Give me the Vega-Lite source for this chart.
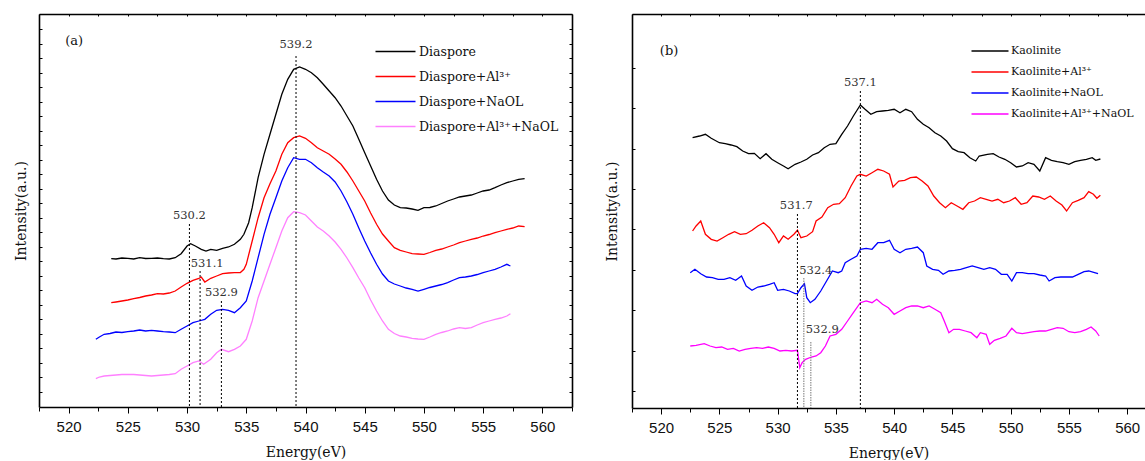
{
"$schema": "https://vega.github.io/schema/vega-lite/v6.json",
"background": "white",
"padding": {"left": 14, "top": 13, "right": 0, "bottom": 0},
"spacing": 32,
"config": {
  "view": {"stroke": null},
  "axis": {"grid": false, "domainColor": "#000", "tickColor": "#000", "domainWidth": 1.6, "tickWidth": 1, "labelFont": "Liberation Sans, Arial, sans-serif", "labelFontSize": 15, "labelColor": "#111", "titleFont": "DejaVu Serif, serif", "titleFontSize": 14, "titleFontWeight": "normal", "titleColor": "#111"},
  "legend": {"labelFont": "DejaVu Serif, serif", "labelColor": "#111"},
  "text": {"font": "DejaVu Serif, serif", "color": "#333"}
},
"resolve": {"scale": {"color": "independent"}, "legend": {"color": "independent"}},
"datasets": {
"a": [
{"series":"Diaspore","x":523.6,"y":14.83},{"series":"Diaspore","x":524.0,"y":14.8},{"series":"Diaspore","x":524.5,"y":14.9},{"series":"Diaspore","x":525,"y":14.87},{"series":"Diaspore","x":525.5,"y":14.8},{"series":"Diaspore","x":526,"y":14.93},{"series":"Diaspore","x":526.5,"y":14.85},{"series":"Diaspore","x":527,"y":14.87},{"series":"Diaspore","x":527.5,"y":14.9},{"series":"Diaspore","x":528,"y":14.83},{"series":"Diaspore","x":528.5,"y":14.8},{"series":"Diaspore","x":529,"y":14.93},{"series":"Diaspore","x":529.5,"y":15.33},{"series":"Diaspore","x":530,"y":16.1},{"series":"Diaspore","x":530.3,"y":16.33},{"series":"Diaspore","x":530.7,"y":16.1},{"series":"Diaspore","x":531.2,"y":15.77},{"series":"Diaspore","x":531.6,"y":15.6},{"series":"Diaspore","x":532,"y":15.77},{"series":"Diaspore","x":532.5,"y":15.67},{"series":"Diaspore","x":533,"y":15.87},{"series":"Diaspore","x":533.5,"y":16.0},{"series":"Diaspore","x":534,"y":16.27},{"series":"Diaspore","x":534.5,"y":16.77},{"series":"Diaspore","x":534.8,"y":17.27},{"series":"Diaspore","x":535.2,"y":18.43},{"series":"Diaspore","x":535.5,"y":19.93},{"series":"Diaspore","x":536,"y":22.93},{"series":"Diaspore","x":536.5,"y":25.27},{"series":"Diaspore","x":537,"y":27.27},{"series":"Diaspore","x":537.5,"y":29.27},{"series":"Diaspore","x":538,"y":31.27},{"series":"Diaspore","x":538.5,"y":32.77},{"series":"Diaspore","x":539,"y":33.77},{"series":"Diaspore","x":539.5,"y":34.0},{"series":"Diaspore","x":540,"y":33.77},{"series":"Diaspore","x":540.5,"y":33.43},{"series":"Diaspore","x":541,"y":32.93},{"series":"Diaspore","x":541.5,"y":32.27},{"series":"Diaspore","x":542,"y":31.6},{"series":"Diaspore","x":542.5,"y":30.93},{"series":"Diaspore","x":543,"y":30.1},{"series":"Diaspore","x":543.5,"y":29.1},{"series":"Diaspore","x":544,"y":28.1},{"series":"Diaspore","x":544.5,"y":26.77},{"series":"Diaspore","x":545,"y":25.43},{"series":"Diaspore","x":545.5,"y":24.1},{"series":"Diaspore","x":546,"y":22.77},{"series":"Diaspore","x":546.5,"y":21.6},{"series":"Diaspore","x":547,"y":20.7},{"series":"Diaspore","x":547.5,"y":20.2},{"series":"Diaspore","x":548,"y":19.93},{"series":"Diaspore","x":548.5,"y":19.9},{"series":"Diaspore","x":549,"y":19.8},{"series":"Diaspore","x":549.5,"y":19.67},{"series":"Diaspore","x":550,"y":19.93},{"series":"Diaspore","x":550.5,"y":19.95},{"series":"Diaspore","x":551,"y":20.1},{"series":"Diaspore","x":551.5,"y":20.35},{"series":"Diaspore","x":552,"y":20.6},{"series":"Diaspore","x":552.5,"y":20.8},{"series":"Diaspore","x":553,"y":21.0},{"series":"Diaspore","x":553.5,"y":21.1},{"series":"Diaspore","x":554,"y":21.2},{"series":"Diaspore","x":554.5,"y":21.4},{"series":"Diaspore","x":555,"y":21.6},{"series":"Diaspore","x":555.5,"y":21.7},{"series":"Diaspore","x":556,"y":21.93},{"series":"Diaspore","x":556.5,"y":22.2},{"series":"Diaspore","x":557,"y":22.43},{"series":"Diaspore","x":557.5,"y":22.6},{"series":"Diaspore","x":558,"y":22.77},{"series":"Diaspore","x":558.5,"y":22.83},
{"series":"Diaspore+Al³⁺","x":523.6,"y":10.43},{"series":"Diaspore+Al³⁺","x":524,"y":10.5},{"series":"Diaspore+Al³⁺","x":524.5,"y":10.6},{"series":"Diaspore+Al³⁺","x":525,"y":10.7},{"series":"Diaspore+Al³⁺","x":525.5,"y":10.83},{"series":"Diaspore+Al³⁺","x":526,"y":10.95},{"series":"Diaspore+Al³⁺","x":526.5,"y":11.1},{"series":"Diaspore+Al³⁺","x":527,"y":11.2},{"series":"Diaspore+Al³⁺","x":527.5,"y":11.33},{"series":"Diaspore+Al³⁺","x":528,"y":11.3},{"series":"Diaspore+Al³⁺","x":528.5,"y":11.4},{"series":"Diaspore+Al³⁺","x":529,"y":11.6},{"series":"Diaspore+Al³⁺","x":529.5,"y":12.0},{"series":"Diaspore+Al³⁺","x":530,"y":12.37},{"series":"Diaspore+Al³⁺","x":530.5,"y":12.67},{"series":"Diaspore+Al³⁺","x":531,"y":12.87},{"series":"Diaspore+Al³⁺","x":531.2,"y":13.0},{"series":"Diaspore+Al³⁺","x":531.5,"y":12.5},{"series":"Diaspore+Al³⁺","x":532,"y":12.87},{"series":"Diaspore+Al³⁺","x":532.5,"y":13.1},{"series":"Diaspore+Al³⁺","x":533,"y":13.33},{"series":"Diaspore+Al³⁺","x":533.5,"y":13.4},{"series":"Diaspore+Al³⁺","x":534,"y":13.43},{"series":"Diaspore+Al³⁺","x":534.5,"y":13.45},{"series":"Diaspore+Al³⁺","x":534.8,"y":13.77},{"series":"Diaspore+Al³⁺","x":535,"y":14.27},{"series":"Diaspore+Al³⁺","x":535.5,"y":16.6},{"series":"Diaspore+Al³⁺","x":536,"y":18.93},{"series":"Diaspore+Al³⁺","x":536.5,"y":20.93},{"series":"Diaspore+Al³⁺","x":537,"y":22.33},{"series":"Diaspore+Al³⁺","x":537.5,"y":23.6},{"series":"Diaspore+Al³⁺","x":538,"y":25.27},{"series":"Diaspore+Al³⁺","x":538.5,"y":26.43},{"series":"Diaspore+Al³⁺","x":539,"y":26.93},{"series":"Diaspore+Al³⁺","x":539.5,"y":27.1},{"series":"Diaspore+Al³⁺","x":540,"y":26.87},{"series":"Diaspore+Al³⁺","x":540.5,"y":26.43},{"series":"Diaspore+Al³⁺","x":541,"y":25.93},{"series":"Diaspore+Al³⁺","x":541.5,"y":25.6},{"series":"Diaspore+Al³⁺","x":542,"y":25.27},{"series":"Diaspore+Al³⁺","x":542.5,"y":24.8},{"series":"Diaspore+Al³⁺","x":543,"y":24.27},{"series":"Diaspore+Al³⁺","x":543.5,"y":23.5},{"series":"Diaspore+Al³⁺","x":544,"y":22.6},{"series":"Diaspore+Al³⁺","x":544.5,"y":21.6},{"series":"Diaspore+Al³⁺","x":545,"y":20.6},{"series":"Diaspore+Al³⁺","x":545.5,"y":19.4},{"series":"Diaspore+Al³⁺","x":546,"y":18.27},{"series":"Diaspore+Al³⁺","x":546.5,"y":17.3},{"series":"Diaspore+Al³⁺","x":547,"y":16.6},{"series":"Diaspore+Al³⁺","x":547.5,"y":15.93},{"series":"Diaspore+Al³⁺","x":548,"y":15.67},{"series":"Diaspore+Al³⁺","x":548.5,"y":15.5},{"series":"Diaspore+Al³⁺","x":549,"y":15.33},{"series":"Diaspore+Al³⁺","x":549.5,"y":15.3},{"series":"Diaspore+Al³⁺","x":550,"y":15.27},{"series":"Diaspore+Al³⁺","x":550.5,"y":15.45},{"series":"Diaspore+Al³⁺","x":551,"y":15.67},{"series":"Diaspore+Al³⁺","x":551.5,"y":15.8},{"series":"Diaspore+Al³⁺","x":552,"y":16.0},{"series":"Diaspore+Al³⁺","x":552.5,"y":16.2},{"series":"Diaspore+Al³⁺","x":553,"y":16.43},{"series":"Diaspore+Al³⁺","x":553.5,"y":16.6},{"series":"Diaspore+Al³⁺","x":554,"y":16.77},{"series":"Diaspore+Al³⁺","x":554.5,"y":16.9},{"series":"Diaspore+Al³⁺","x":555,"y":17.1},{"series":"Diaspore+Al³⁺","x":555.5,"y":17.25},{"series":"Diaspore+Al³⁺","x":556,"y":17.43},{"series":"Diaspore+Al³⁺","x":556.5,"y":17.6},{"series":"Diaspore+Al³⁺","x":557,"y":17.77},{"series":"Diaspore+Al³⁺","x":557.5,"y":17.9},{"series":"Diaspore+Al³⁺","x":558,"y":18.1},{"series":"Diaspore+Al³⁺","x":558.5,"y":18.03},
{"series":"Diaspore+NaOL","x":522.3,"y":6.77},{"series":"Diaspore+NaOL","x":522.6,"y":7.0},{"series":"Diaspore+NaOL","x":523,"y":7.27},{"series":"Diaspore+NaOL","x":523.5,"y":7.35},{"series":"Diaspore+NaOL","x":524,"y":7.5},{"series":"Diaspore+NaOL","x":524.5,"y":7.45},{"series":"Diaspore+NaOL","x":525,"y":7.53},{"series":"Diaspore+NaOL","x":525.5,"y":7.6},{"series":"Diaspore+NaOL","x":526,"y":7.7},{"series":"Diaspore+NaOL","x":526.5,"y":7.6},{"series":"Diaspore+NaOL","x":527,"y":7.67},{"series":"Diaspore+NaOL","x":527.5,"y":7.6},{"series":"Diaspore+NaOL","x":528,"y":7.53},{"series":"Diaspore+NaOL","x":528.5,"y":7.5},{"series":"Diaspore+NaOL","x":529,"y":7.43},{"series":"Diaspore+NaOL","x":529.5,"y":7.77},{"series":"Diaspore+NaOL","x":530,"y":8.1},{"series":"Diaspore+NaOL","x":530.5,"y":8.43},{"series":"Diaspore+NaOL","x":531,"y":8.6},{"series":"Diaspore+NaOL","x":531.5,"y":8.77},{"series":"Diaspore+NaOL","x":532,"y":9.27},{"series":"Diaspore+NaOL","x":532.5,"y":9.67},{"series":"Diaspore+NaOL","x":533,"y":9.77},{"series":"Diaspore+NaOL","x":533.5,"y":9.67},{"series":"Diaspore+NaOL","x":534,"y":9.43},{"series":"Diaspore+NaOL","x":534.5,"y":9.93},{"series":"Diaspore+NaOL","x":535,"y":10.6},{"series":"Diaspore+NaOL","x":535.5,"y":12.6},{"series":"Diaspore+NaOL","x":536,"y":14.93},{"series":"Diaspore+NaOL","x":536.5,"y":17.27},{"series":"Diaspore+NaOL","x":537,"y":19.27},{"series":"Diaspore+NaOL","x":537.5,"y":20.93},{"series":"Diaspore+NaOL","x":538,"y":22.6},{"series":"Diaspore+NaOL","x":538.5,"y":23.93},{"series":"Diaspore+NaOL","x":539,"y":24.93},{"series":"Diaspore+NaOL","x":539.5,"y":24.77},{"series":"Diaspore+NaOL","x":540,"y":24.77},{"series":"Diaspore+NaOL","x":540.5,"y":24.43},{"series":"Diaspore+NaOL","x":541,"y":23.93},{"series":"Diaspore+NaOL","x":541.5,"y":23.5},{"series":"Diaspore+NaOL","x":542,"y":23.1},{"series":"Diaspore+NaOL","x":542.5,"y":22.5},{"series":"Diaspore+NaOL","x":543,"y":21.6},{"series":"Diaspore+NaOL","x":543.5,"y":20.5},{"series":"Diaspore+NaOL","x":544,"y":19.27},{"series":"Diaspore+NaOL","x":544.5,"y":17.9},{"series":"Diaspore+NaOL","x":545,"y":16.6},{"series":"Diaspore+NaOL","x":545.5,"y":15.4},{"series":"Diaspore+NaOL","x":546,"y":14.27},{"series":"Diaspore+NaOL","x":546.5,"y":13.3},{"series":"Diaspore+NaOL","x":547,"y":12.6},{"series":"Diaspore+NaOL","x":547.5,"y":12.3},{"series":"Diaspore+NaOL","x":548,"y":12.1},{"series":"Diaspore+NaOL","x":548.5,"y":11.9},{"series":"Diaspore+NaOL","x":549,"y":11.77},{"series":"Diaspore+NaOL","x":549.5,"y":11.6},{"series":"Diaspore+NaOL","x":550,"y":11.77},{"series":"Diaspore+NaOL","x":550.5,"y":11.95},{"series":"Diaspore+NaOL","x":551,"y":12.1},{"series":"Diaspore+NaOL","x":551.5,"y":12.25},{"series":"Diaspore+NaOL","x":552,"y":12.43},{"series":"Diaspore+NaOL","x":552.5,"y":12.7},{"series":"Diaspore+NaOL","x":553,"y":12.93},{"series":"Diaspore+NaOL","x":553.5,"y":13.0},{"series":"Diaspore+NaOL","x":554,"y":13.1},{"series":"Diaspore+NaOL","x":554.5,"y":13.25},{"series":"Diaspore+NaOL","x":555,"y":13.43},{"series":"Diaspore+NaOL","x":555.5,"y":13.6},{"series":"Diaspore+NaOL","x":556,"y":13.77},{"series":"Diaspore+NaOL","x":556.5,"y":14.0},{"series":"Diaspore+NaOL","x":557,"y":14.27},{"series":"Diaspore+NaOL","x":557.3,"y":14.1},
{"series":"Diaspore+Al³⁺+NaOL","x":522.3,"y":2.83},{"series":"Diaspore+Al³⁺+NaOL","x":522.6,"y":3.0},{"series":"Diaspore+Al³⁺+NaOL","x":523,"y":3.1},{"series":"Diaspore+Al³⁺+NaOL","x":523.5,"y":3.15},{"series":"Diaspore+Al³⁺+NaOL","x":524,"y":3.2},{"series":"Diaspore+Al³⁺+NaOL","x":524.5,"y":3.25},{"series":"Diaspore+Al³⁺+NaOL","x":525,"y":3.27},{"series":"Diaspore+Al³⁺+NaOL","x":525.5,"y":3.25},{"series":"Diaspore+Al³⁺+NaOL","x":526,"y":3.2},{"series":"Diaspore+Al³⁺+NaOL","x":526.5,"y":3.15},{"series":"Diaspore+Al³⁺+NaOL","x":527,"y":3.1},{"series":"Diaspore+Al³⁺+NaOL","x":527.5,"y":3.15},{"series":"Diaspore+Al³⁺+NaOL","x":528,"y":3.2},{"series":"Diaspore+Al³⁺+NaOL","x":528.5,"y":3.25},{"series":"Diaspore+Al³⁺+NaOL","x":529,"y":3.33},{"series":"Diaspore+Al³⁺+NaOL","x":529.5,"y":3.77},{"series":"Diaspore+Al³⁺+NaOL","x":530,"y":4.1},{"series":"Diaspore+Al³⁺+NaOL","x":530.5,"y":4.43},{"series":"Diaspore+Al³⁺+NaOL","x":531,"y":4.6},{"series":"Diaspore+Al³⁺+NaOL","x":531.4,"y":4.27},{"series":"Diaspore+Al³⁺+NaOL","x":532,"y":4.77},{"series":"Diaspore+Al³⁺+NaOL","x":532.5,"y":5.43},{"series":"Diaspore+Al³⁺+NaOL","x":532.9,"y":5.77},{"series":"Diaspore+Al³⁺+NaOL","x":533.5,"y":5.53},{"series":"Diaspore+Al³⁺+NaOL","x":534,"y":5.77},{"series":"Diaspore+Al³⁺+NaOL","x":534.5,"y":6.1},{"series":"Diaspore+Al³⁺+NaOL","x":535,"y":6.77},{"series":"Diaspore+Al³⁺+NaOL","x":535.5,"y":8.6},{"series":"Diaspore+Al³⁺+NaOL","x":536,"y":10.93},{"series":"Diaspore+Al³⁺+NaOL","x":536.5,"y":12.6},{"series":"Diaspore+Al³⁺+NaOL","x":537,"y":14.27},{"series":"Diaspore+Al³⁺+NaOL","x":537.5,"y":15.93},{"series":"Diaspore+Al³⁺+NaOL","x":538,"y":17.6},{"series":"Diaspore+Al³⁺+NaOL","x":538.5,"y":18.93},{"series":"Diaspore+Al³⁺+NaOL","x":539,"y":19.53},{"series":"Diaspore+Al³⁺+NaOL","x":539.5,"y":19.43},{"series":"Diaspore+Al³⁺+NaOL","x":540,"y":19.2},{"series":"Diaspore+Al³⁺+NaOL","x":540.5,"y":18.6},{"series":"Diaspore+Al³⁺+NaOL","x":541,"y":18.0},{"series":"Diaspore+Al³⁺+NaOL","x":541.5,"y":17.6},{"series":"Diaspore+Al³⁺+NaOL","x":542,"y":17.1},{"series":"Diaspore+Al³⁺+NaOL","x":542.5,"y":16.5},{"series":"Diaspore+Al³⁺+NaOL","x":543,"y":15.77},{"series":"Diaspore+Al³⁺+NaOL","x":543.5,"y":14.9},{"series":"Diaspore+Al³⁺+NaOL","x":544,"y":13.93},{"series":"Diaspore+Al³⁺+NaOL","x":544.5,"y":12.9},{"series":"Diaspore+Al³⁺+NaOL","x":545,"y":11.93},{"series":"Diaspore+Al³⁺+NaOL","x":545.5,"y":10.7},{"series":"Diaspore+Al³⁺+NaOL","x":546,"y":9.6},{"series":"Diaspore+Al³⁺+NaOL","x":546.5,"y":8.6},{"series":"Diaspore+Al³⁺+NaOL","x":547,"y":7.77},{"series":"Diaspore+Al³⁺+NaOL","x":547.5,"y":7.35},{"series":"Diaspore+Al³⁺+NaOL","x":548,"y":7.1},{"series":"Diaspore+Al³⁺+NaOL","x":548.5,"y":7.0},{"series":"Diaspore+Al³⁺+NaOL","x":549,"y":6.87},{"series":"Diaspore+Al³⁺+NaOL","x":549.5,"y":6.8},{"series":"Diaspore+Al³⁺+NaOL","x":550,"y":6.77},{"series":"Diaspore+Al³⁺+NaOL","x":550.5,"y":7.0},{"series":"Diaspore+Al³⁺+NaOL","x":551,"y":7.27},{"series":"Diaspore+Al³⁺+NaOL","x":551.5,"y":7.45},{"series":"Diaspore+Al³⁺+NaOL","x":552,"y":7.6},{"series":"Diaspore+Al³⁺+NaOL","x":552.5,"y":7.8},{"series":"Diaspore+Al³⁺+NaOL","x":553,"y":7.93},{"series":"Diaspore+Al³⁺+NaOL","x":553.5,"y":7.85},{"series":"Diaspore+Al³⁺+NaOL","x":554,"y":7.93},{"series":"Diaspore+Al³⁺+NaOL","x":554.5,"y":8.2},{"series":"Diaspore+Al³⁺+NaOL","x":555,"y":8.43},{"series":"Diaspore+Al³⁺+NaOL","x":555.5,"y":8.6},{"series":"Diaspore+Al³⁺+NaOL","x":556,"y":8.77},{"series":"Diaspore+Al³⁺+NaOL","x":556.5,"y":8.9},{"series":"Diaspore+Al³⁺+NaOL","x":557,"y":9.1},{"series":"Diaspore+Al³⁺+NaOL","x":557.3,"y":9.33}
],
"b": [
{"series":"Kaolinite","x":522.7,"y":27.03},{"series":"Kaolinite","x":523.3,"y":27.2},{"series":"Kaolinite","x":523.8,"y":27.37},{"series":"Kaolinite","x":524.3,"y":26.97},{"series":"Kaolinite","x":525,"y":26.53},{"series":"Kaolinite","x":525.5,"y":26.43},{"series":"Kaolinite","x":526,"y":26.3},{"series":"Kaolinite","x":526.5,"y":26.13},{"series":"Kaolinite","x":527,"y":25.7},{"series":"Kaolinite","x":527.5,"y":25.43},{"series":"Kaolinite","x":528,"y":25.47},{"series":"Kaolinite","x":528.5,"y":24.93},{"series":"Kaolinite","x":529,"y":25.43},{"series":"Kaolinite","x":529.5,"y":24.87},{"series":"Kaolinite","x":530,"y":24.53},{"series":"Kaolinite","x":530.5,"y":24.2},{"series":"Kaolinite","x":530.9,"y":23.93},{"series":"Kaolinite","x":531.5,"y":24.37},{"series":"Kaolinite","x":532,"y":24.6},{"series":"Kaolinite","x":532.5,"y":24.87},{"series":"Kaolinite","x":533,"y":25.3},{"series":"Kaolinite","x":533.5,"y":25.53},{"series":"Kaolinite","x":534,"y":26.03},{"series":"Kaolinite","x":534.5,"y":26.37},{"series":"Kaolinite","x":535,"y":26.43},{"series":"Kaolinite","x":535.5,"y":27.37},{"series":"Kaolinite","x":536,"y":28.2},{"series":"Kaolinite","x":536.5,"y":29.2},{"series":"Kaolinite","x":537.1,"y":30.3},{"series":"Kaolinite","x":537.5,"y":29.87},{"series":"Kaolinite","x":538,"y":29.37},{"series":"Kaolinite","x":538.5,"y":29.63},{"series":"Kaolinite","x":539,"y":29.7},{"series":"Kaolinite","x":539.5,"y":29.77},{"series":"Kaolinite","x":540,"y":29.87},{"series":"Kaolinite","x":540.5,"y":29.53},{"series":"Kaolinite","x":541,"y":29.87},{"series":"Kaolinite","x":541.5,"y":29.63},{"series":"Kaolinite","x":542,"y":28.87},{"series":"Kaolinite","x":542.5,"y":28.37},{"series":"Kaolinite","x":543,"y":28.03},{"series":"Kaolinite","x":543.5,"y":27.53},{"series":"Kaolinite","x":544,"y":27.2},{"series":"Kaolinite","x":544.5,"y":26.7},{"series":"Kaolinite","x":545,"y":25.93},{"series":"Kaolinite","x":545.5,"y":25.63},{"series":"Kaolinite","x":546,"y":25.53},{"series":"Kaolinite","x":546.5,"y":25.03},{"series":"Kaolinite","x":547,"y":24.7},{"series":"Kaolinite","x":547.3,"y":25.2},{"series":"Kaolinite","x":548,"y":25.37},{"series":"Kaolinite","x":548.5,"y":25.43},{"series":"Kaolinite","x":549,"y":25.1},{"series":"Kaolinite","x":549.5,"y":24.87},{"series":"Kaolinite","x":550,"y":24.53},{"series":"Kaolinite","x":550.5,"y":24.1},{"series":"Kaolinite","x":551,"y":24.2},{"series":"Kaolinite","x":551.5,"y":24.53},{"series":"Kaolinite","x":552,"y":24.37},{"series":"Kaolinite","x":552.5,"y":23.7},{"series":"Kaolinite","x":553,"y":25.03},{"series":"Kaolinite","x":553.5,"y":24.77},{"series":"Kaolinite","x":554,"y":24.63},{"series":"Kaolinite","x":554.5,"y":24.53},{"series":"Kaolinite","x":555,"y":24.37},{"series":"Kaolinite","x":555.5,"y":24.63},{"series":"Kaolinite","x":556,"y":24.77},{"series":"Kaolinite","x":556.5,"y":24.87},{"series":"Kaolinite","x":557,"y":25.03},{"series":"Kaolinite","x":557.3,"y":24.77},{"series":"Kaolinite","x":557.7,"y":24.9},
{"series":"Kaolinite+Al³⁺","x":522.7,"y":17.7},{"series":"Kaolinite+Al³⁺","x":523,"y":18.2},{"series":"Kaolinite+Al³⁺","x":523.4,"y":18.7},{"series":"Kaolinite+Al³⁺","x":523.8,"y":17.37},{"series":"Kaolinite+Al³⁺","x":524.3,"y":16.87},{"series":"Kaolinite+Al³⁺","x":524.8,"y":16.7},{"series":"Kaolinite+Al³⁺","x":525.3,"y":17.03},{"series":"Kaolinite+Al³⁺","x":525.8,"y":17.37},{"series":"Kaolinite+Al³⁺","x":526.3,"y":17.63},{"series":"Kaolinite+Al³⁺","x":526.8,"y":17.37},{"series":"Kaolinite+Al³⁺","x":527.3,"y":17.43},{"series":"Kaolinite+Al³⁺","x":527.8,"y":17.77},{"series":"Kaolinite+Al³⁺","x":528.3,"y":18.2},{"series":"Kaolinite+Al³⁺","x":528.8,"y":18.53},{"series":"Kaolinite+Al³⁺","x":529.3,"y":18.03},{"series":"Kaolinite+Al³⁺","x":529.7,"y":17.37},{"series":"Kaolinite+Al³⁺","x":530.1,"y":16.53},{"series":"Kaolinite+Al³⁺","x":530.5,"y":17.2},{"series":"Kaolinite+Al³⁺","x":530.9,"y":16.87},{"series":"Kaolinite+Al³⁺","x":531.4,"y":17.37},{"series":"Kaolinite+Al³⁺","x":531.7,"y":17.77},{"series":"Kaolinite+Al³⁺","x":532,"y":17.03},{"series":"Kaolinite+Al³⁺","x":532.5,"y":17.2},{"series":"Kaolinite+Al³⁺","x":533,"y":17.63},{"series":"Kaolinite+Al³⁺","x":533.3,"y":18.7},{"series":"Kaolinite+Al³⁺","x":533.8,"y":19.1},{"series":"Kaolinite+Al³⁺","x":534.3,"y":20.03},{"series":"Kaolinite+Al³⁺","x":534.8,"y":20.37},{"series":"Kaolinite+Al³⁺","x":535.3,"y":20.43},{"series":"Kaolinite+Al³⁺","x":535.8,"y":21.03},{"series":"Kaolinite+Al³⁺","x":536.3,"y":22.2},{"series":"Kaolinite+Al³⁺","x":536.8,"y":23.2},{"series":"Kaolinite+Al³⁺","x":537.1,"y":23.37},{"series":"Kaolinite+Al³⁺","x":537.6,"y":23.2},{"series":"Kaolinite+Al³⁺","x":538.1,"y":23.53},{"series":"Kaolinite+Al³⁺","x":538.6,"y":23.87},{"series":"Kaolinite+Al³⁺","x":539.1,"y":23.7},{"series":"Kaolinite+Al³⁺","x":539.6,"y":23.37},{"series":"Kaolinite+Al³⁺","x":539.9,"y":22.1},{"series":"Kaolinite+Al³⁺","x":540.4,"y":22.7},{"series":"Kaolinite+Al³⁺","x":540.9,"y":22.77},{"series":"Kaolinite+Al³⁺","x":541.4,"y":23.03},{"series":"Kaolinite+Al³⁺","x":541.9,"y":23.1},{"series":"Kaolinite+Al³⁺","x":542.4,"y":22.7},{"series":"Kaolinite+Al³⁺","x":542.9,"y":22.2},{"series":"Kaolinite+Al³⁺","x":543.4,"y":21.2},{"series":"Kaolinite+Al³⁺","x":543.9,"y":20.53},{"series":"Kaolinite+Al³⁺","x":544.4,"y":20.03},{"series":"Kaolinite+Al³⁺","x":544.9,"y":20.53},{"series":"Kaolinite+Al³⁺","x":545.4,"y":20.2},{"series":"Kaolinite+Al³⁺","x":545.9,"y":19.87},{"series":"Kaolinite+Al³⁺","x":546.4,"y":20.53},{"series":"Kaolinite+Al³⁺","x":546.9,"y":20.7},{"series":"Kaolinite+Al³⁺","x":547.4,"y":21.03},{"series":"Kaolinite+Al³⁺","x":547.9,"y":20.87},{"series":"Kaolinite+Al³⁺","x":548.4,"y":20.7},{"series":"Kaolinite+Al³⁺","x":548.9,"y":20.87},{"series":"Kaolinite+Al³⁺","x":549.4,"y":20.53},{"series":"Kaolinite+Al³⁺","x":549.9,"y":20.7},{"series":"Kaolinite+Al³⁺","x":550.4,"y":21.03},{"series":"Kaolinite+Al³⁺","x":550.9,"y":20.37},{"series":"Kaolinite+Al³⁺","x":551.4,"y":20.53},{"series":"Kaolinite+Al³⁺","x":551.9,"y":21.2},{"series":"Kaolinite+Al³⁺","x":552.4,"y":21.1},{"series":"Kaolinite+Al³⁺","x":552.9,"y":20.87},{"series":"Kaolinite+Al³⁺","x":553.4,"y":21.2},{"series":"Kaolinite+Al³⁺","x":553.9,"y":20.7},{"series":"Kaolinite+Al³⁺","x":554.4,"y":20.3},{"series":"Kaolinite+Al³⁺","x":554.8,"y":19.7},{"series":"Kaolinite+Al³⁺","x":555.3,"y":20.53},{"series":"Kaolinite+Al³⁺","x":555.8,"y":20.77},{"series":"Kaolinite+Al³⁺","x":556.3,"y":21.03},{"series":"Kaolinite+Al³⁺","x":556.7,"y":21.63},{"series":"Kaolinite+Al³⁺","x":557.1,"y":21.37},{"series":"Kaolinite+Al³⁺","x":557.4,"y":20.97},{"series":"Kaolinite+Al³⁺","x":557.7,"y":21.27},
{"series":"Kaolinite+NaOL","x":522.5,"y":13.53},{"series":"Kaolinite+NaOL","x":522.9,"y":13.87},{"series":"Kaolinite+NaOL","x":523.4,"y":13.43},{"series":"Kaolinite+NaOL","x":523.9,"y":13.1},{"series":"Kaolinite+NaOL","x":524.4,"y":13.03},{"series":"Kaolinite+NaOL","x":524.9,"y":12.87},{"series":"Kaolinite+NaOL","x":525.4,"y":12.87},{"series":"Kaolinite+NaOL","x":525.9,"y":13.03},{"series":"Kaolinite+NaOL","x":526.4,"y":12.77},{"series":"Kaolinite+NaOL","x":526.9,"y":13.2},{"series":"Kaolinite+NaOL","x":527.3,"y":12.2},{"series":"Kaolinite+NaOL","x":527.8,"y":11.77},{"series":"Kaolinite+NaOL","x":528.3,"y":12.1},{"series":"Kaolinite+NaOL","x":528.8,"y":12.2},{"series":"Kaolinite+NaOL","x":529.3,"y":12.37},{"series":"Kaolinite+NaOL","x":529.7,"y":12.53},{"series":"Kaolinite+NaOL","x":530,"y":11.77},{"series":"Kaolinite+NaOL","x":530.5,"y":11.87},{"series":"Kaolinite+NaOL","x":531,"y":11.7},{"series":"Kaolinite+NaOL","x":531.5,"y":11.43},{"series":"Kaolinite+NaOL","x":531.7,"y":11.43},{"series":"Kaolinite+NaOL","x":532,"y":12.03},{"series":"Kaolinite+NaOL","x":532.3,"y":12.43},{"series":"Kaolinite+NaOL","x":532.5,"y":11.03},{"series":"Kaolinite+NaOL","x":532.8,"y":10.53},{"series":"Kaolinite+NaOL","x":533.2,"y":10.87},{"series":"Kaolinite+NaOL","x":533.7,"y":11.7},{"series":"Kaolinite+NaOL","x":534.2,"y":12.7},{"series":"Kaolinite+NaOL","x":534.7,"y":13.7},{"series":"Kaolinite+NaOL","x":535.2,"y":13.53},{"series":"Kaolinite+NaOL","x":535.5,"y":13.7},{"series":"Kaolinite+NaOL","x":535.8,"y":14.53},{"series":"Kaolinite+NaOL","x":536.3,"y":14.87},{"series":"Kaolinite+NaOL","x":536.8,"y":15.2},{"series":"Kaolinite+NaOL","x":537.1,"y":15.87},{"series":"Kaolinite+NaOL","x":537.6,"y":15.97},{"series":"Kaolinite+NaOL","x":538.1,"y":15.87},{"series":"Kaolinite+NaOL","x":538.6,"y":16.53},{"series":"Kaolinite+NaOL","x":539.1,"y":16.53},{"series":"Kaolinite+NaOL","x":539.6,"y":16.77},{"series":"Kaolinite+NaOL","x":540,"y":15.87},{"series":"Kaolinite+NaOL","x":540.5,"y":15.53},{"series":"Kaolinite+NaOL","x":541,"y":15.87},{"series":"Kaolinite+NaOL","x":541.5,"y":15.97},{"series":"Kaolinite+NaOL","x":542,"y":16.1},{"series":"Kaolinite+NaOL","x":542.5,"y":15.53},{"series":"Kaolinite+NaOL","x":542.8,"y":14.2},{"series":"Kaolinite+NaOL","x":543.3,"y":13.87},{"series":"Kaolinite+NaOL","x":543.8,"y":13.77},{"series":"Kaolinite+NaOL","x":544.2,"y":13.37},{"series":"Kaolinite+NaOL","x":544.7,"y":13.7},{"series":"Kaolinite+NaOL","x":545.2,"y":13.77},{"series":"Kaolinite+NaOL","x":545.7,"y":13.87},{"series":"Kaolinite+NaOL","x":546.2,"y":14.03},{"series":"Kaolinite+NaOL","x":546.7,"y":14.2},{"series":"Kaolinite+NaOL","x":547.2,"y":14.03},{"series":"Kaolinite+NaOL","x":547.7,"y":13.87},{"series":"Kaolinite+NaOL","x":548.2,"y":14.03},{"series":"Kaolinite+NaOL","x":548.7,"y":13.87},{"series":"Kaolinite+NaOL","x":549.2,"y":13.37},{"series":"Kaolinite+NaOL","x":549.7,"y":13.37},{"series":"Kaolinite+NaOL","x":550.1,"y":12.7},{"series":"Kaolinite+NaOL","x":550.5,"y":13.53},{"series":"Kaolinite+NaOL","x":551,"y":13.53},{"series":"Kaolinite+NaOL","x":551.5,"y":13.43},{"series":"Kaolinite+NaOL","x":552,"y":13.43},{"series":"Kaolinite+NaOL","x":552.5,"y":13.3},{"series":"Kaolinite+NaOL","x":553,"y":13.2},{"series":"Kaolinite+NaOL","x":553.3,"y":12.7},{"series":"Kaolinite+NaOL","x":553.8,"y":13.03},{"series":"Kaolinite+NaOL","x":554.3,"y":13.1},{"series":"Kaolinite+NaOL","x":554.8,"y":13.1},{"series":"Kaolinite+NaOL","x":555.3,"y":13.1},{"series":"Kaolinite+NaOL","x":555.8,"y":13.37},{"series":"Kaolinite+NaOL","x":556.3,"y":13.63},{"series":"Kaolinite+NaOL","x":556.7,"y":13.7},{"series":"Kaolinite+NaOL","x":557.2,"y":13.53},{"series":"Kaolinite+NaOL","x":557.5,"y":13.43},
{"series":"Kaolinite+Al³⁺+NaOL","x":522.5,"y":6.2},{"series":"Kaolinite+Al³⁺+NaOL","x":523,"y":6.27},{"series":"Kaolinite+Al³⁺+NaOL","x":523.7,"y":6.43},{"series":"Kaolinite+Al³⁺+NaOL","x":524.2,"y":6.2},{"series":"Kaolinite+Al³⁺+NaOL","x":524.7,"y":6.03},{"series":"Kaolinite+Al³⁺+NaOL","x":525.2,"y":6.1},{"series":"Kaolinite+Al³⁺+NaOL","x":525.7,"y":5.87},{"series":"Kaolinite+Al³⁺+NaOL","x":526.2,"y":5.97},{"series":"Kaolinite+Al³⁺+NaOL","x":526.7,"y":5.7},{"series":"Kaolinite+Al³⁺+NaOL","x":527.2,"y":5.87},{"series":"Kaolinite+Al³⁺+NaOL","x":527.7,"y":5.97},{"series":"Kaolinite+Al³⁺+NaOL","x":528.2,"y":6.03},{"series":"Kaolinite+Al³⁺+NaOL","x":528.7,"y":5.97},{"series":"Kaolinite+Al³⁺+NaOL","x":529.2,"y":6.1},{"series":"Kaolinite+Al³⁺+NaOL","x":529.7,"y":5.97},{"series":"Kaolinite+Al³⁺+NaOL","x":530.2,"y":5.7},{"series":"Kaolinite+Al³⁺+NaOL","x":530.7,"y":5.77},{"series":"Kaolinite+Al³⁺+NaOL","x":531.2,"y":5.7},{"series":"Kaolinite+Al³⁺+NaOL","x":531.7,"y":5.77},{"series":"Kaolinite+Al³⁺+NaOL","x":531.9,"y":4.03},{"series":"Kaolinite+Al³⁺+NaOL","x":532.1,"y":4.53},{"series":"Kaolinite+Al³⁺+NaOL","x":532.4,"y":4.87},{"series":"Kaolinite+Al³⁺+NaOL","x":532.9,"y":5.1},{"series":"Kaolinite+Al³⁺+NaOL","x":533.3,"y":5.2},{"series":"Kaolinite+Al³⁺+NaOL","x":533.7,"y":5.53},{"series":"Kaolinite+Al³⁺+NaOL","x":534.1,"y":6.2},{"series":"Kaolinite+Al³⁺+NaOL","x":534.5,"y":7.2},{"series":"Kaolinite+Al³⁺+NaOL","x":535,"y":7.37},{"series":"Kaolinite+Al³⁺+NaOL","x":535.5,"y":7.87},{"series":"Kaolinite+Al³⁺+NaOL","x":536,"y":8.7},{"series":"Kaolinite+Al³⁺+NaOL","x":536.5,"y":9.53},{"series":"Kaolinite+Al³⁺+NaOL","x":537.1,"y":10.53},{"series":"Kaolinite+Al³⁺+NaOL","x":537.6,"y":10.7},{"series":"Kaolinite+Al³⁺+NaOL","x":538.1,"y":10.53},{"series":"Kaolinite+Al³⁺+NaOL","x":538.5,"y":10.87},{"series":"Kaolinite+Al³⁺+NaOL","x":539,"y":10.37},{"series":"Kaolinite+Al³⁺+NaOL","x":539.5,"y":10.03},{"series":"Kaolinite+Al³⁺+NaOL","x":540,"y":9.37},{"series":"Kaolinite+Al³⁺+NaOL","x":540.5,"y":9.7},{"series":"Kaolinite+Al³⁺+NaOL","x":541,"y":10.03},{"series":"Kaolinite+Al³⁺+NaOL","x":541.5,"y":10.2},{"series":"Kaolinite+Al³⁺+NaOL","x":542,"y":10.2},{"series":"Kaolinite+Al³⁺+NaOL","x":542.5,"y":10.03},{"series":"Kaolinite+Al³⁺+NaOL","x":543,"y":10.2},{"series":"Kaolinite+Al³⁺+NaOL","x":543.5,"y":9.87},{"series":"Kaolinite+Al³⁺+NaOL","x":544,"y":9.53},{"series":"Kaolinite+Al³⁺+NaOL","x":544.3,"y":8.7},{"series":"Kaolinite+Al³⁺+NaOL","x":544.7,"y":7.53},{"series":"Kaolinite+Al³⁺+NaOL","x":545.1,"y":7.87},{"series":"Kaolinite+Al³⁺+NaOL","x":545.6,"y":7.87},{"series":"Kaolinite+Al³⁺+NaOL","x":546.1,"y":7.7},{"series":"Kaolinite+Al³⁺+NaOL","x":546.6,"y":7.53},{"series":"Kaolinite+Al³⁺+NaOL","x":547.1,"y":7.03},{"series":"Kaolinite+Al³⁺+NaOL","x":547.4,"y":7.53},{"series":"Kaolinite+Al³⁺+NaOL","x":547.9,"y":7.37},{"series":"Kaolinite+Al³⁺+NaOL","x":548.2,"y":6.37},{"series":"Kaolinite+Al³⁺+NaOL","x":548.6,"y":6.77},{"series":"Kaolinite+Al³⁺+NaOL","x":549.1,"y":6.97},{"series":"Kaolinite+Al³⁺+NaOL","x":549.6,"y":7.2},{"series":"Kaolinite+Al³⁺+NaOL","x":550.1,"y":7.97},{"series":"Kaolinite+Al³⁺+NaOL","x":550.5,"y":7.53},{"series":"Kaolinite+Al³⁺+NaOL","x":551,"y":7.43},{"series":"Kaolinite+Al³⁺+NaOL","x":551.5,"y":7.53},{"series":"Kaolinite+Al³⁺+NaOL","x":552,"y":7.63},{"series":"Kaolinite+Al³⁺+NaOL","x":552.5,"y":7.7},{"series":"Kaolinite+Al³⁺+NaOL","x":553,"y":7.7},{"series":"Kaolinite+Al³⁺+NaOL","x":553.5,"y":7.87},{"series":"Kaolinite+Al³⁺+NaOL","x":554,"y":8.03},{"series":"Kaolinite+Al³⁺+NaOL","x":554.5,"y":7.97},{"series":"Kaolinite+Al³⁺+NaOL","x":555,"y":7.63},{"series":"Kaolinite+Al³⁺+NaOL","x":555.5,"y":7.53},{"series":"Kaolinite+Al³⁺+NaOL","x":556,"y":7.63},{"series":"Kaolinite+Al³⁺+NaOL","x":556.5,"y":7.87},{"series":"Kaolinite+Al³⁺+NaOL","x":556.9,"y":8.1},{"series":"Kaolinite+Al³⁺+NaOL","x":557.3,"y":7.7},{"series":"Kaolinite+Al³⁺+NaOL","x":557.6,"y":7.2}
],
"annA": [
{"x":530.2,"top":18.3,"lx":530.2,"ly":19.1,"label":"530.2"},
{"x":531.1,"top":13.6,"lx":531.7,"ly":14.3,"label":"531.1"},
{"x":532.9,"top":10.6,"lx":532.9,"ly":11.4,"label":"532.9"},
{"x":539.2,"top":35.1,"lx":539.2,"ly":36.2,"label":"539.2"}
],
"annB": [
{"x":531.7,"top":19.4,"lx":531.6,"ly":20.2,"label":"531.7"},
{"x":537.1,"top":31.7,"lx":537.1,"ly":32.5,"label":"537.1"}
],
"annB2": [
{"x":532.25,"top":13.0,"lx":533.27,"ly":13.7,"label":"532.4"},
{"x":532.85,"top":6.6,"lx":533.83,"ly":7.8,"label":"532.9"}
]
},
"hconcat": [
{
 "width": 533, "height": 393,
 "resolve": {"axis": {"x": "independent", "y": "independent"}},
 "layer": [
  {"data": {"name": "a"}, "mark": {"type": "line", "strokeWidth": 1.3},
   "encoding": {
    "x": {"field": "x", "type": "quantitative", "scale": {"domain": [517.5, 562.5], "nice": false, "zero": false},
      "axis": {"orient": "bottom", "values": [517.5,520,522.5,525,527.5,530,532.5,535,537.5,540,542.5,545,547.5,550,552.5,555,557.5,560,562.5], "labelExpr": "datum.value % 5 == 0 ? datum.label : ''", "tickSize": {"condition": {"test": "datum.value % 5 == 0", "value": 6}, "value": 4}, "labelPadding": 6, "labelFont": "Liberation Sans, Arial, sans-serif", "labelFontSize": 15, "labelOverlap": false, "labelFlush": false, "title": "Energy(eV)", "titlePadding": 11}},
    "y": {"field": "y", "type": "quantitative", "scale": {"domain": [0, 39.3], "nice": false, "zero": false},
      "axis": {"orient": "left", "values": [1.53,2.98,4.43,5.88,7.33,8.78,10.23,11.68,13.13,14.58,16.03,17.48,18.93,20.38,21.83,23.28,24.73,26.18,27.63,29.08,30.53,31.98,33.43,34.88,36.33,37.78], "labels": false, "tickSize": -3, "title": "Intensity(a.u.)", "titlePadding": 10}},
    "color": {"field": "series", "type": "nominal",
      "scale": {"domain": ["Diaspore","Diaspore+Al³⁺","Diaspore+NaOL","Diaspore+Al³⁺+NaOL"], "range": ["#000000","#ff0000","#0000ff","#ff80ff"]},
      "legend": {"orient": "none", "legendX": 338, "legendY": 19, "title": null, "symbolType": "M-1.127,0H1.127", "symbolSize": 1260, "symbolStrokeWidth": 1.5, "symbolFillColor": "transparent", "labelFont": "DejaVu Serif, serif", "labelFontSize": 12.5, "labelColor": "#111", "rowPadding": 0, "labelOffset": 5, "padding": 0, "labelLimit": 300}}
   }},
  {"data": {"name": "annA"}, "mark": {"type": "rule", "color": "#000", "strokeWidth": 1, "strokeDash": [2, 2]},
   "encoding": {
    "x": {"field": "x", "type": "quantitative", "axis": {"orient": "top", "values": [517.5,520,522.5,525,527.5,530,532.5,535,537.5,540,542.5,545,547.5,550,552.5,555,557.5,560,562.5], "labels": false, "tickSize": -2, "title": null}},
    "y": {"field": "top", "type": "quantitative", "axis": {"orient": "right", "values": [1.53,2.98,4.43,5.88,7.33,8.78,10.23,11.68,13.13,14.58,16.03,17.48,18.93,20.38,21.83,23.28,24.73,26.18,27.63,29.08,30.53,31.98,33.43,34.88,36.33,37.78], "labels": false, "tickSize": -3, "title": null}},
    "y2": {"datum": 0}
   }},
  {"data": {"name": "annA"}, "mark": {"type": "text", "fontSize": 11.5, "baseline": "middle", "align": "center"},
   "encoding": {
    "x": {"field": "lx", "type": "quantitative", "axis": null},
    "y": {"field": "ly", "type": "quantitative", "axis": null},
    "text": {"field": "label"}
   }},
  {"data": {"values": [{"lx": 520.47, "ly": 36.6, "label": "(a)"}]}, "mark": {"type": "text", "fontSize": 13, "baseline": "middle", "align": "center", "color": "#111"},
   "encoding": {
    "x": {"field": "lx", "type": "quantitative", "axis": null},
    "y": {"field": "ly", "type": "quantitative", "axis": null},
    "text": {"field": "label"}
   }}
 ]
},
{
 "width": 513, "height": 394,
 "resolve": {"axis": {"x": "independent", "y": "independent"}},
 "layer": [
  {"data": {"name": "b"}, "mark": {"type": "line", "strokeWidth": 1.3},
   "encoding": {
    "x": {"field": "x", "type": "quantitative", "scale": {"domain": [517.5, 561.53], "nice": false, "zero": false},
      "axis": {"orient": "bottom", "values": [517.5,520,522.5,525,527.5,530,532.5,535,537.5,540,542.5,545,547.5,550,552.5,555,557.5,560], "labelExpr": "datum.value % 5 == 0 ? datum.label : ''", "tickSize": {"condition": {"test": "datum.value % 5 == 0", "value": 6}, "value": 4}, "labelPadding": 6, "labelFont": "Liberation Sans, Arial, sans-serif", "labelFontSize": 15, "labelOverlap": false, "labelFlush": false, "title": "Energy(eV)", "titlePadding": 11}},
    "y": {"field": "y", "type": "quantitative", "scale": {"domain": [0, 39.4], "nice": false, "zero": false},
      "axis": {"orient": "left", "values": [1.7,5.74,9.78,13.82,17.86,21.9,25.94,29.98,34.02], "labels": false, "tickSize": -3, "title": "Intensity(a.u.)", "titlePadding": 12}},
    "color": {"field": "series", "type": "nominal",
      "scale": {"domain": ["Kaolinite","Kaolinite+Al³⁺","Kaolinite+NaOL","Kaolinite+Al³⁺+NaOL"], "range": ["#000000","#ff0000","#0000ff","#ff00ff"]},
      "legend": {"orient": "none", "legendX": 342, "legendY": 21, "title": null, "symbolType": "M-1.217,0H1.217", "symbolSize": 924, "symbolStrokeWidth": 1.5, "symbolFillColor": "transparent", "labelFont": "DejaVu Serif, serif", "labelFontSize": 11, "labelColor": "#111", "rowPadding": 0, "labelOffset": 5, "padding": 0, "labelLimit": 300}}
   }},
  {"data": {"name": "annB"}, "mark": {"type": "rule", "color": "#000", "strokeWidth": 1, "strokeDash": [2, 2]},
   "encoding": {
    "x": {"field": "x", "type": "quantitative", "axis": {"orient": "top", "values": [517.5,520,522.5,525,527.5,530,532.5,535,537.5,540,542.5,545,547.5,550,552.5,555,557.5,560], "labels": false, "tickSize": -2, "title": null}},
    "y": {"field": "top", "type": "quantitative", "axis": null},
    "y2": {"datum": 0}
   }},
  {"data": {"name": "annB2"}, "mark": {"type": "rule", "color": "#777", "strokeWidth": 1, "strokeDash": [1.5, 1]},
   "encoding": {
    "x": {"field": "x", "type": "quantitative", "axis": null},
    "y": {"field": "top", "type": "quantitative", "axis": null},
    "y2": {"datum": 0}
   }},
  {"data": {"name": "annB"}, "mark": {"type": "text", "fontSize": 11.5, "baseline": "middle", "align": "center"},
   "encoding": {
    "x": {"field": "lx", "type": "quantitative", "axis": null},
    "y": {"field": "ly", "type": "quantitative", "axis": null},
    "text": {"field": "label"}
   }},
  {"data": {"name": "annB2"}, "mark": {"type": "text", "fontSize": 11.5, "baseline": "middle", "align": "center"},
   "encoding": {
    "x": {"field": "lx", "type": "quantitative", "axis": null},
    "y": {"field": "ly", "type": "quantitative", "axis": null},
    "text": {"field": "label"}
   }},
  {"data": {"values": [{"lx": 520.68, "ly": 35.7, "label": "(b)"}]}, "mark": {"type": "text", "fontSize": 13, "baseline": "middle", "align": "center", "color": "#111"},
   "encoding": {
    "x": {"field": "lx", "type": "quantitative", "axis": null},
    "y": {"field": "ly", "type": "quantitative", "axis": null},
    "text": {"field": "label"}
   }}
 ]
}
]
}
